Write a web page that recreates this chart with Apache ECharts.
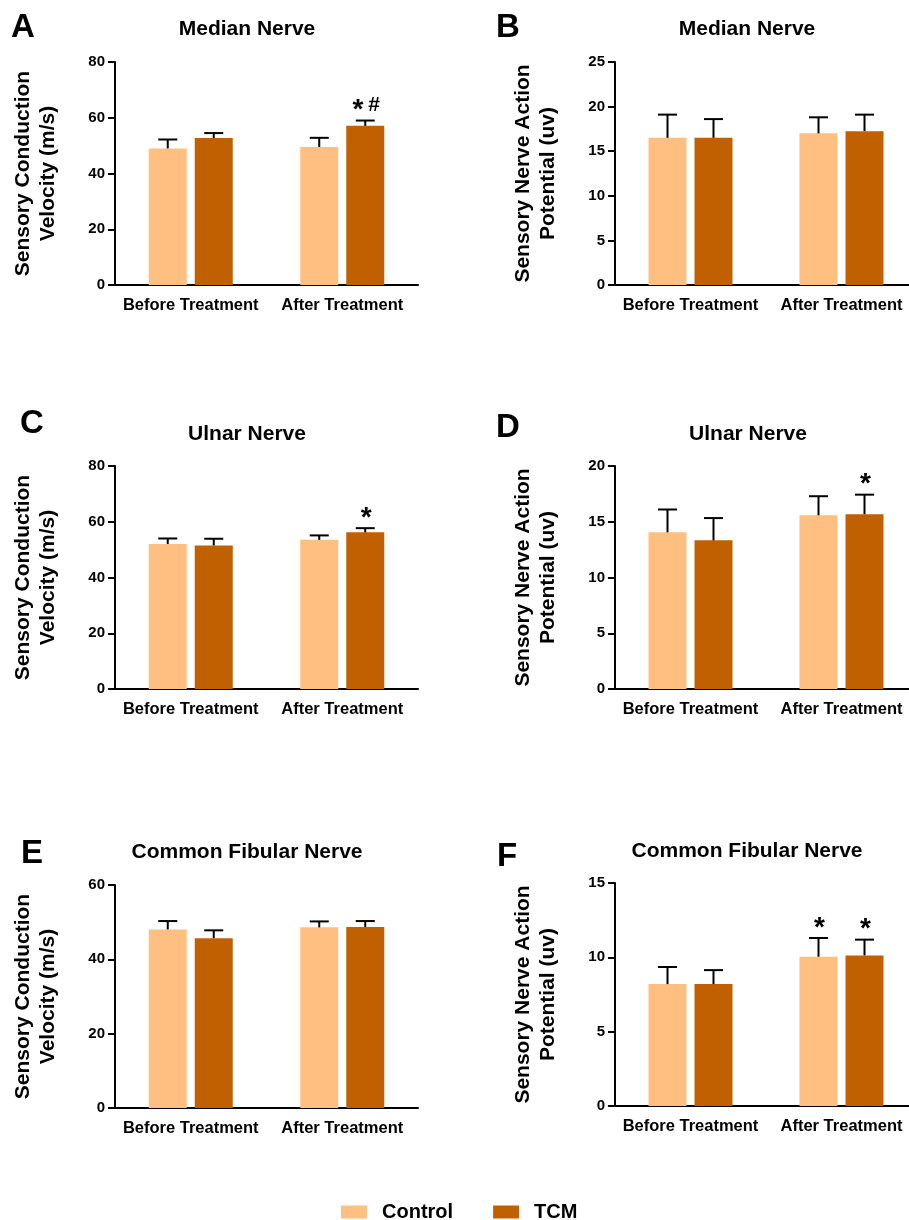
<!DOCTYPE html>
<html><head><meta charset="utf-8">
<script src="https://cdn.jsdelivr.net/npm/echarts@6/dist/echarts.min.js"></script>
<style>html,body{margin:0;padding:0;background:#fff;overflow:hidden;width:909px;height:1220px}#chart{width:930px;height:1220px}</style>
</head><body><div id="chart"></div>
<script>
// ---------- data ----------
const categories = ['Before Treatment', 'After Treatment'];
const groupNames = ['Control', 'TCM'];
const panelLetters = ['A', 'B', 'C', 'D', 'E', 'F'];
const panelTitles = ['Median Nerve', 'Median Nerve', 'Ulnar Nerve', 'Ulnar Nerve', 'Common Fibular Nerve', 'Common Fibular Nerve'];
const yAxisNames = [
  'Sensory Conduction\nVelocity (m/s)', 'Sensory Nerve Action\nPotential (uv)',
  'Sensory Conduction\nVelocity (m/s)', 'Sensory Nerve Action\nPotential (uv)',
  'Sensory Conduction\nVelocity (m/s)', 'Sensory Nerve Action\nPotential (uv)'
];
const yMax = [80, 25, 80, 20, 60, 15];
const yInterval = [20, 5, 20, 5, 20, 5];

// A: median nerve SCV
const medianScvControl = [49.0, 49.5];
const medianScvControlErr = [3.2, 3.3];
const medianScvTcm = [52.7, 57.1];
const medianScvTcmErr = [1.8, 1.9];
const medianScvControlNote = ['', ''];
const medianScvTcmNote = ['', '* #'];
// B: median nerve SNAP
const medianSnapControl = [16.5, 17.0];
const medianSnapControlErr = [2.6, 1.8];
const medianSnapTcm = [16.5, 17.25];
const medianSnapTcmErr = [2.1, 1.85];
const medianSnapControlNote = ['', ''];
const medianSnapTcmNote = ['', ''];
// C: ulnar nerve SCV
const ulnarScvControl = [52.0, 53.5];
const ulnarScvControlErr = [2.0, 1.6];
const ulnarScvTcm = [51.5, 56.2];
const ulnarScvTcmErr = [2.4, 1.5];
const ulnarScvControlNote = ['', ''];
const ulnarScvTcmNote = ['', '*'];
// D: ulnar nerve SNAP
const ulnarSnapControl = [14.05, 15.58];
const ulnarSnapControlErr = [2.05, 1.71];
const ulnarSnapTcm = [13.33, 15.67];
const ulnarSnapTcmErr = [2.0, 1.76];
const ulnarSnapControlNote = ['', ''];
const ulnarSnapTcmNote = ['', '*'];
// E: common fibular nerve SCV
const fibularScvControl = [48.05, 48.6];
const fibularScvControlErr = [2.25, 1.6];
const fibularScvTcm = [45.7, 48.7];
const fibularScvTcmErr = [2.1, 1.6];
const fibularScvControlNote = ['', ''];
const fibularScvTcmNote = ['', ''];
// F: common fibular nerve SNAP
const fibularSnapControl = [8.2, 10.04];
const fibularSnapControlErr = [1.15, 1.26];
const fibularSnapTcm = [8.2, 10.13];
const fibularSnapTcmErr = [0.94, 1.06];
const fibularSnapControlNote = ['', '*'];
const fibularSnapTcmNote = ['', '*'];

// ---------- styling / layout ----------
const FONT = '"Liberation Sans", Arial, sans-serif';
const COLORS = ['#FFBF80', '#C06000'];
const BAR_W = 38;
const BAR_GAP = 8;
const CAP_W = 19;

const panels = [
  { ctl: medianScvControl, ctlErr: medianScvControlErr, tcm: medianScvTcm, tcmErr: medianScvTcmErr, ctlNote: medianScvControlNote, tcmNote: medianScvTcmNote },
  { ctl: medianSnapControl, ctlErr: medianSnapControlErr, tcm: medianSnapTcm, tcmErr: medianSnapTcmErr, ctlNote: medianSnapControlNote, tcmNote: medianSnapTcmNote },
  { ctl: ulnarScvControl, ctlErr: ulnarScvControlErr, tcm: ulnarScvTcm, tcmErr: ulnarScvTcmErr, ctlNote: ulnarScvControlNote, tcmNote: ulnarScvTcmNote },
  { ctl: ulnarSnapControl, ctlErr: ulnarSnapControlErr, tcm: ulnarSnapTcm, tcmErr: ulnarSnapTcmErr, ctlNote: ulnarSnapControlNote, tcmNote: ulnarSnapTcmNote },
  { ctl: fibularScvControl, ctlErr: fibularScvControlErr, tcm: fibularScvTcm, tcmErr: fibularScvTcmErr, ctlNote: fibularScvControlNote, tcmNote: fibularScvTcmNote },
  { ctl: fibularSnapControl, ctlErr: fibularSnapControlErr, tcm: fibularSnapTcm, tcmErr: fibularSnapTcmErr, ctlNote: fibularSnapControlNote, tcmNote: fibularSnapTcmNote }
];

const gridLayout = [
  { left: 115, top: 62, width: 303, height: 223 },
  { left: 615, top: 62, width: 302, height: 223 },
  { left: 115, top: 466, width: 303, height: 223 },
  { left: 615, top: 466, width: 302, height: 223 },
  { left: 115, top: 885, width: 303, height: 223 },
  { left: 615, top: 883, width: 302, height: 223 }
];
const titleLayout = [
  { x: 247, y: 19 }, { x: 747, y: 19 },
  { x: 247, y: 424 }, { x: 748, y: 424 },
  { x: 247, y: 842 }, { x: 747, y: 841 }
];
const letterLayout = [
  { x: 11, y: 11 }, { x: 496, y: 11 },
  { x: 20, y: 407 }, { x: 496, y: 411 },
  { x: 21, y: 837 }, { x: 497, y: 840 }
];

const titles = [], grids = [], xAxes = [], yAxes = [], barSeries = [], errSeries = [];

function makeErr(name, idx, values, errs, notes, sign, color) {
  return {
    type: 'custom', name: name, xAxisIndex: idx, yAxisIndex: idx, z: 5,
    itemStyle: { color: color },
    data: values.map((v, i) => [i, v, errs[i]]),
    renderItem: function (params, api) {
      const ci = api.value(0), v = api.value(1), e = api.value(2);
      const base = api.coord([ci, v]);
      const top = api.coord([ci, v + e]);
      const cx = base[0] + sign * (BAR_W + BAR_GAP) / 2;
      const children = [
        { type: 'line', shape: { x1: cx, y1: base[1], x2: cx, y2: top[1] }, style: { stroke: '#000', lineWidth: 2 } },
        { type: 'line', shape: { x1: cx - CAP_W / 2, y1: top[1], x2: cx + CAP_W / 2, y2: top[1] }, style: { stroke: '#000', lineWidth: 2 } }
      ];
      const note = notes[params.dataIndex];
      if (note) {
        const rt = note.split('').map(ch => ch === '*' ? '{s|*}' : (ch === '#' ? '{h|#}' : ch)).join('');
        children.push({
          type: 'text',
          style: {
            text: rt, x: cx + 1, y: top[1] - 15, align: 'center', verticalAlign: 'middle',
            fill: '#000', fontFamily: FONT, fontWeight: 'bold', fontSize: 18,
            rich: {
              s: { fontSize: 28, fontWeight: 'bold', fontFamily: FONT, fill: '#000', padding: [10, 0, 0, 0] },
              h: { fontSize: 21, fontWeight: 'bold', fontFamily: FONT, fill: '#000' }
            }
          }
        });
      }
      return { type: 'group', children: children };
    }
  };
}

panels.forEach((p, i) => {
  const g = gridLayout[i];
  grids.push({ left: g.left, top: g.top, width: g.width, height: g.height, containLabel: false });
  titles.push({
    text: panelTitles[i], left: titleLayout[i].x, top: titleLayout[i].y, textAlign: 'center', padding: 0,
    textStyle: { fontFamily: FONT, fontWeight: 'bold', fontSize: 21, color: '#000' }
  });
  titles.push({
    text: panelLetters[i], left: letterLayout[i].x, top: letterLayout[i].y, padding: 0,
    textStyle: { fontFamily: FONT, fontWeight: 'bold', fontSize: 33, color: '#000' }
  });
  xAxes.push({
    type: 'category', gridIndex: i, data: categories,
    axisLine: { lineStyle: { color: '#000', width: 2 } },
    axisTick: { show: false },
    axisLabel: { color: '#000', fontFamily: FONT, fontWeight: 'bold', fontSize: 16.5, margin: 12, interval: 0 },
    splitLine: { show: false }
  });
  yAxes.push({
    type: 'value', gridIndex: i, min: 0, max: yMax[i], interval: yInterval[i],
    name: yAxisNames[i], nameLocation: 'middle', nameGap: 54, nameRotate: 90,
    nameTextStyle: { color: '#000', fontFamily: FONT, fontWeight: 'bold', fontSize: 21, lineHeight: 25.5 },
    axisLine: { show: true, lineStyle: { color: '#000', width: 2 } },
    axisTick: { show: true, length: 7, lineStyle: { color: '#000', width: 2 } },
    axisLabel: { color: '#000', fontFamily: FONT, fontWeight: 'bold', fontSize: 15, margin: 10 },
    splitLine: { show: false }
  });
  barSeries.push({
    type: 'bar', name: groupNames[0], xAxisIndex: i, yAxisIndex: i, data: p.ctl,
    barWidth: BAR_W, barGap: (BAR_GAP / BAR_W * 100) + '%', itemStyle: { color: COLORS[0] }, silent: true
  });
  barSeries.push({
    type: 'bar', name: groupNames[1], xAxisIndex: i, yAxisIndex: i, data: p.tcm,
    barWidth: BAR_W, barGap: (BAR_GAP / BAR_W * 100) + '%', itemStyle: { color: COLORS[1] }, silent: true
  });
  errSeries.push(makeErr(groupNames[0], i, p.ctl, p.ctlErr, p.ctlNote, -1, COLORS[0]));
  errSeries.push(makeErr(groupNames[1], i, p.tcm, p.tcmErr, p.tcmNote, 1, COLORS[1]));
});

const chart = echarts.init(document.getElementById('chart'), null, { renderer: 'canvas' });
chart.setOption({
  backgroundColor: '#fff',
  animation: false,
  title: titles,
  grid: grids,
  xAxis: xAxes,
  yAxis: yAxes,
  legend: {
    data: groupNames, left: 336, top: 1197, icon: 'rect', itemWidth: 26, itemHeight: 13, itemGap: 40,
    textStyle: { color: '#000', fontFamily: FONT, fontWeight: 'bold', fontSize: 20, padding: [0, 0, 0, 10] }
  },
  series: barSeries.concat(errSeries)
});
</script></body></html>
